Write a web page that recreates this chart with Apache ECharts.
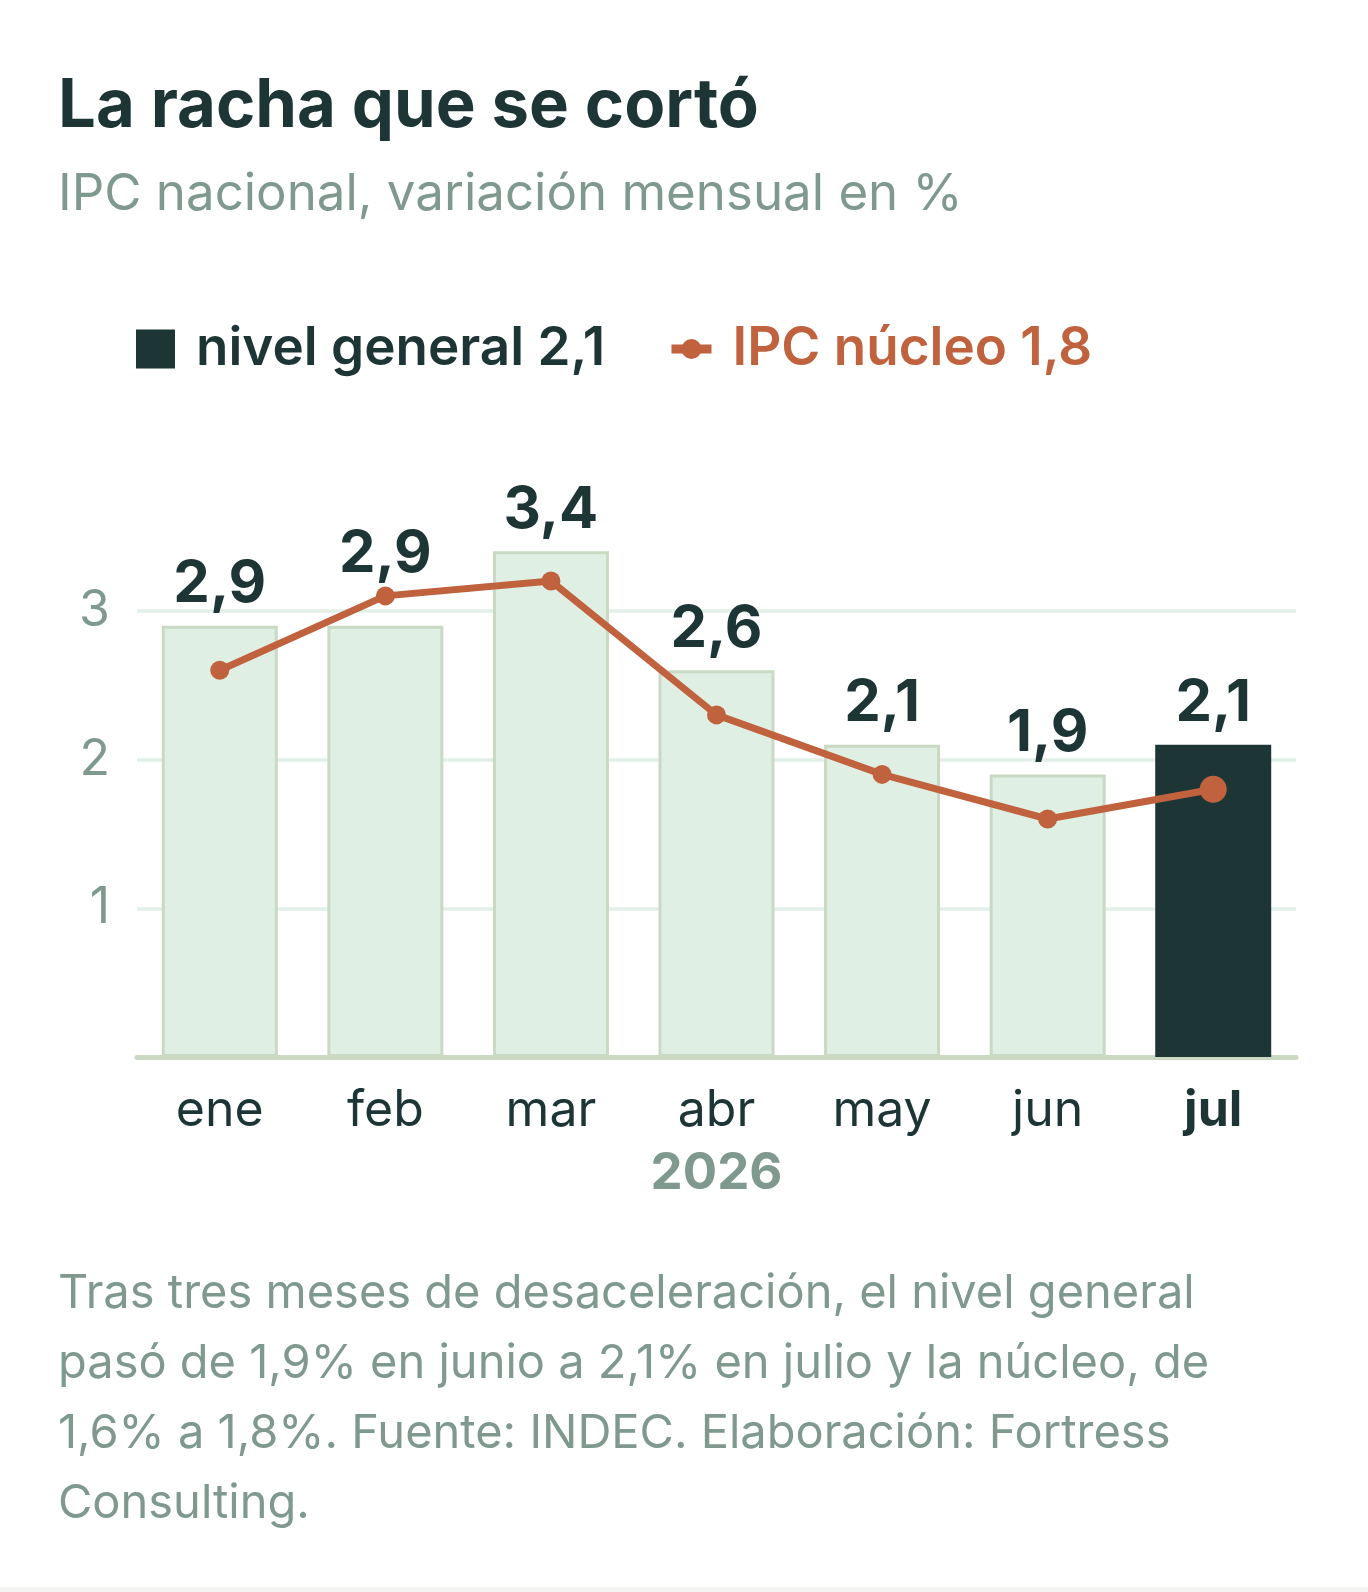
<!DOCTYPE html>
<html>
<head>
<meta charset="utf-8">
<script src="https://cdn.jsdelivr.net/npm/echarts@6/dist/echarts.min.js"></script>
<style>
html,body{margin:0;padding:0;background:#f4f4f2;}
#chart{width:1368px;height:1587px;background:#ffffff;}
</style>
</head>
<body>
<div id="chart"></div>
<script>
const months = ['ene', 'feb', 'mar', 'abr', 'may', 'jun', 'jul'];
const nivelGeneral = [2.9, 2.9, 3.4, 2.6, 2.1, 1.9, 2.1];
const ipcNucleo = [2.6, 3.1, 3.2, 2.3, 1.9, 1.6, 1.8];
const yTicks = [1, 2, 3];
const yearLabel = '2026';
const titleText = 'La racha que se cortó';
const subtitleText = 'IPC nacional, variación mensual en %';
const noteLines = [
  'Tras tres meses de desaceleración, el nivel general',
  'pasó de 1,9% en junio a 2,1% en julio y la núcleo, de',
  '1,6% a 1,8%. Fuente: INDEC. Elaboración: Fortress',
  'Consulting.'
];

const DARK = '#1e3536';
const MUTED = '#7f998f';
const ORANGE = '#c0623e';
const BAR_FILL = '#dfefe4';
const BAR_EDGE = '#c9d9c3';
const GRID = '#e2f0e8';
const FONT = 'Inter';

const fmt = v => String(v).replace('.', ',');
const last = months.length - 1;

const barData = nivelGeneral.map((v, i) => i === last
  ? { value: v, itemStyle: { color: DARK, borderColor: DARK, borderWidth: 0 } }
  : v);
const lineData = ipcNucleo.map((v, i) => i === last ? { value: v, symbolSize: 27 } : v);
const labelAnchor = nivelGeneral.map((v, i) => Math.max(v, ipcNucleo[i]));

const chart = echarts.init(document.getElementById('chart'), null, { renderer: 'canvas' });
chart.setOption({
  backgroundColor: '#ffffff',
  animation: false,
  title: {
    text: titleText,
    subtext: subtitleText,
    left: 58,
    top: 67,
    padding: 0,
    itemGap: 18,
    textStyle: { fontFamily: FONT, fontSize: 67, fontWeight: 700, color: DARK, lineHeight: 80 },
    subtextStyle: { fontFamily: FONT, fontSize: 51, fontWeight: 400, color: MUTED, lineHeight: 60 }
  },
  legend: [
    {
      left: 136,
      top: 321,
      padding: 0,
      itemWidth: 39,
      itemHeight: 39,
      data: [{ name: 'nivel general', icon: 'rect', itemStyle: { color: DARK, borderWidth: 0 } }],
      formatter: n => n + ' ' + fmt(nivelGeneral[last]),
      textStyle: { fontFamily: FONT, fontSize: 53, fontWeight: 600, color: DARK, lineHeight: 56, padding: [0, 0, 0, 16] },
      selectedMode: false
    },
    {
      left: 667,
      top: 321,
      padding: 0,
      itemWidth: 40,
      itemHeight: 25,
      data: [{ name: 'IPC núcleo', lineStyle: { width: 9 } }],
      formatter: n => n + ' ' + fmt(ipcNucleo[last]),
      textStyle: { fontFamily: FONT, fontSize: 53, fontWeight: 600, color: ORANGE, lineHeight: 56, padding: [0, 0, 0, 16] },
      selectedMode: false
    }
  ],
  grid: { left: 137, right: 72, top: 462, bottom: 530, containLabel: false },
  xAxis: {
    type: 'category',
    data: months.map((m, i) => i === last ? { value: m, textStyle: { fontWeight: 700 } } : m),
    axisLine: { show: true, lineStyle: { color: BAR_EDGE, width: 5 } },
    axisTick: { show: false },
    axisLabel: { fontFamily: FONT, fontSize: 50, color: DARK, margin: 27, lineHeight: 54 },
    name: yearLabel,
    nameLocation: 'middle',
    nameGap: 90,
    nameTextStyle: { fontFamily: FONT, fontSize: 51, fontWeight: 700, color: MUTED, lineHeight: 54 }
  },
  yAxis: {
    type: 'value',
    min: 0,
    max: 4,
    interval: 1,
    axisLine: { show: false },
    axisTick: { show: false },
    splitLine: { show: false },
    axisLabel: {
      fontFamily: FONT, fontSize: 50, color: MUTED, margin: 27,
      formatter: v => yTicks.indexOf(v) >= 0 ? fmt(v) : ''
    }
  },
  series: [
    {
      name: 'nivel general',
      type: 'bar',
      data: barData,
      barWidth: 116,
      itemStyle: { color: BAR_FILL, borderColor: BAR_EDGE, borderWidth: 3 },
      markLine: {
        silent: true,
        symbol: 'none',
        label: { show: false },
        lineStyle: { color: GRID, width: 3.5, type: 'solid' },
        z: 0,
        data: yTicks.map(t => ({ yAxis: t }))
      },
      z: 2
    },
    {
      name: 'IPC núcleo',
      type: 'line',
      data: lineData,
      symbol: 'circle',
      symbolSize: 19,
      itemStyle: { color: ORANGE },
      lineStyle: { color: ORANGE, width: 7 },
      z: 4
    },
    {
      name: 'labels',
      type: 'scatter',
      data: labelAnchor,
      symbolSize: 0,
      silent: true,
      z: 5,
      itemStyle: { opacity: 1 },
      label: {
        show: true,
        position: 'top',
        distance: 12,
        fontFamily: FONT,
        fontSize: 58,
        fontWeight: 700,
        color: DARK,
        opacity: 1,
        lineHeight: 58,
        formatter: p => fmt(nivelGeneral[p.dataIndex])
      }
    }
  ],
  graphic: [
    {
      type: 'text',
      left: 58,
      top: 1259,
      style: {
        text: noteLines.join('\n'),
        fontFamily: FONT,
        fontSize: 47,
        lineHeight: 70,
        fill: MUTED
      }
    }
  ]
});
</script>
</body>
</html>
